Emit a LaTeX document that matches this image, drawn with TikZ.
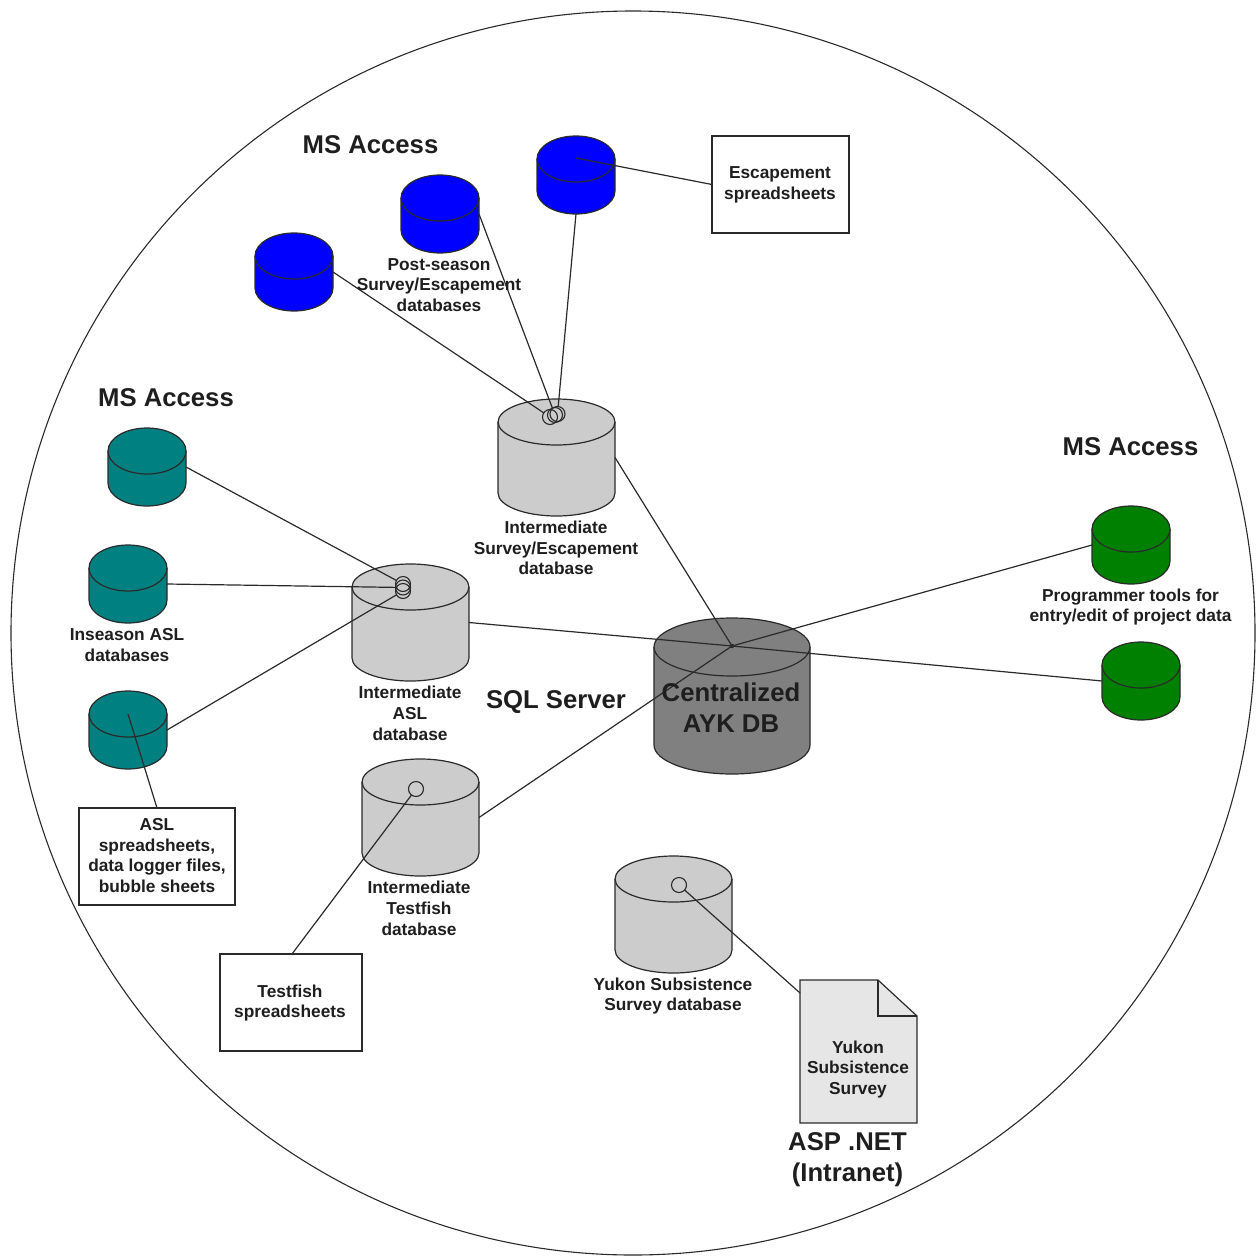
\documentclass[tikz,border=0pt]{standalone}
\usepackage{fontspec}
\setmainfont{Liberation Sans}
\definecolor{ln}{HTML}{2A2A2A}
\definecolor{txt}{HTML}{1E1E1E}
\definecolor{cblue}{HTML}{0000FF}
\definecolor{cteal}{HTML}{008080}
\definecolor{cgreen}{HTML}{008000}
\definecolor{cgrey}{HTML}{CCCCCC}
\definecolor{cdark}{HTML}{808080}
\definecolor{cdoc}{HTML}{E6E6E6}
\tikzset{
  anchorbox/.style={inner sep=0pt,outer sep=0pt,minimum size=#1},
  cylline/.style={draw=ln,line width=1.2pt,line join=round},
  lab/.style={font=\fontsize{17.3}{20.7}\selectfont\bfseries,text=txt,align=center,inner sep=0pt},
  head/.style={font=\fontsize{25.7}{31}\selectfont\bfseries,text=txt,align=center,inner sep=0pt},
  box/.style={draw=ln,line width=1.2pt,fill=white,inner sep=0pt,outer sep=0pt},
  conn/.style={draw=ln,line width=1.2pt},
  port/.style={circle,draw=ln,line width=1.1pt,minimum size=15pt,inner sep=0pt,outer sep=0pt}
}
% \dbcyl{name}{centre}{size}{end radius}{colour}: a cylinder drawn round a named node
\newcommand{\dbcyl}[5]{%
  \node[anchorbox=#3pt] (#1) at (#2) {};
  \begin{scope}[shift={(#1.center)},x=1pt,y=1pt]
    \pgfmathsetmacro{\myR}{#3/2}
    \pgfmathsetmacro{\myr}{#4}
    \pgfmathsetmacro{\myC}{\myR-\myr}
    \draw[cylline,fill=#5] (-\myR,\myC) arc (180:0:\myR pt and \myr pt) -- (\myR,-\myC)
       arc (360:180:\myR pt and \myr pt) -- cycle;
    \draw[cylline] (-\myR,\myC) arc (180:360:\myR pt and \myr pt);
  \end{scope}
}
\begin{document}
\begin{tikzpicture}[x=1pt,y=-1pt]
\useasboundingbox (0,0) rectangle (1256,1258);
\node[circle,draw=ln,line width=1.1pt,minimum size=1244pt,inner sep=0pt] (outer) at (633,633) {};

% cylinders
\dbcyl{b1}{294,272}{78}{23}{cblue}
\dbcyl{b2}{440,214}{78}{23}{cblue}
\dbcyl{b3}{576,175}{78}{23}{cblue}
\dbcyl{t1}{147,467}{78}{23}{cteal}
\dbcyl{t2}{128,584}{78}{23}{cteal}
\dbcyl{t3}{128,730}{78}{23}{cteal}
\dbcyl{g1}{1131,545}{78}{23}{cgreen}
\dbcyl{g2}{1141,681}{78}{23}{cgreen}
\dbcyl{survey}{556.5,457.5}{117}{23}{cgrey}
\dbcyl{asl}{410.5,622.5}{117}{23}{cgrey}
\dbcyl{testfish}{420.5,817.5}{117}{23}{cgrey}
\dbcyl{yukon}{673.5,914.5}{117}{23}{cgrey}
\dbcyl{central}{732,696}{156}{29}{cdark}

% boxes
\node[box,minimum width=137pt,minimum height=97pt] (esc) at (780.5,184.5) {};
\node[box,minimum width=156pt,minimum height=97pt] (aslbox) at (157,856.5) {};
\node[box,minimum width=142pt,minimum height=97pt] (tfbox) at (291,1002.5) {};

% document
\draw[draw=ln,line width=1.2pt,fill=cdoc] (800,980) -- (878,980) -- (917,1016) -- (917,1123) -- (800,1123) -- cycle;
\draw[draw=ln,line width=1.2pt] (878,980) -- (878,1016) -- (917,1016);
\coordinate (doclink) at (800,993);

% junction
\coordinate (hub) at (732,646);
\fill[ln] (hub) circle (2.2pt);

% connection rings
\node[port] (p1) at (550,417) {};
\node[port] (p2) at (555,415) {};
\node[port] (p3) at (557.5,414) {};
\node[port] (q1) at (403,584) {};
\node[port] (q2) at (403,587.5) {};
\node[port] (q3) at (403,591) {};
\node[port] (r1) at (416,789) {};
\node[port] (r2) at (679,885) {};
\coordinate (b3c) at (576,158);
\coordinate (t3c) at (128,714);

% connectors
\draw[conn] (b1.east) -- (p1);
\draw[conn] (b2.east) -- (p2);
\draw[conn] (b3.south) -- (p3);
\draw[conn] (esc.west) -- (b3c);
\draw[conn] (t1.east) -- (q1);
\draw[conn] (t2.east) -- (q2);
\draw[conn] (t3.east) -- (q3);
\draw[conn] (t3c) -- (aslbox.north);
\draw[conn] (tfbox.north) ++(1,0) -- (r1);
\draw[conn] (doclink) -- (r2);
\draw[conn] (survey.east) -- (hub);
\draw[conn] (asl.east) -- (hub);
\draw[conn] (testfish.east) -- (hub);
\draw[conn] (g1.west) -- (hub);
\draw[conn] (g2.west) -- (hub);

% labels
\node[head] (h1) at (370.5,145) {MS Access};
\node[head] (h2) at (166,398) {MS Access};
\node[head] (h3) at (1130.5,447) {MS Access};
\node[head] (h4) at (556,702) {SQL Server};
\node[head] (h5) at (731,708) {Centralized\\AYK DB};
\node[head] (h6) at (847.5,1160) {ASP .NET\\(Intranet)};
\node[lab] (l1) at (780,185) {Escapement\\spreadsheets};
\node[lab] (l2) at (439,285) {Post-season\\Survey/Escapement\\databases};
\node[lab] (l3) at (556,548) {Intermediate\\Survey/Escapement\\database};
\node[lab] (l4) at (127,645) {Inseason ASL\\databases};
\node[lab] (l5) at (410,713.5) {Intermediate\\ASL\\database};
\node[lab] (l6) at (1130.5,607) {Programmer tools for\\entry/edit of project data};
\node[lab] (l7) at (157,855.5) {ASL\\spreadsheets,\\data logger files,\\bubble sheets};
\node[lab] (l8) at (419,908.5) {Intermediate\\Testfish\\database};
\node[lab] (l9) at (290,1003) {Testfish\\spreadsheets};
\node[lab] (l10) at (673,996) {Yukon Subsistence\\Survey database};
\node[lab] (l11) at (858,1069.5) {Yukon\\Subsistence\\Survey};
\end{tikzpicture}
\end{document}
